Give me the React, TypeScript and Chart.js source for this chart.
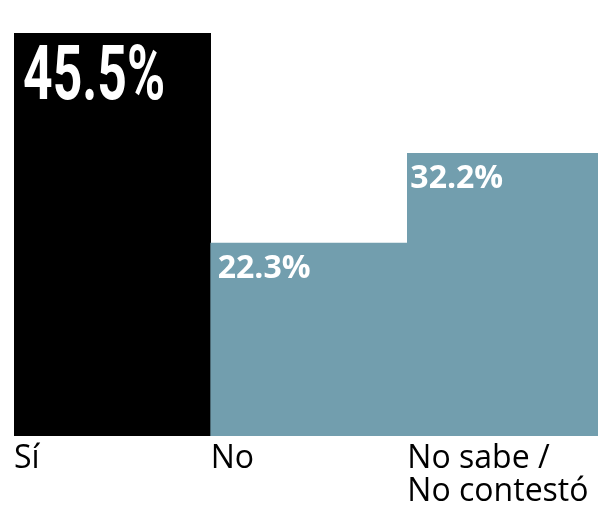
import React, { useEffect, useRef } from "react";
import { Chart, registerables } from "chart.js";

Chart.register(...registerables);

const categories: (string | string[])[] = ["Sí", "No", ["No sabe /", "No contestó"]];
const values: number[] = [45.5, 22.3, 32.2];
const valueLabels: string[] = ["45.5%", "22.3%", "32.2%"];
const barColors: string[] = ["#000000", "#729eae", "#729eae"];

const labelPlugin = {
  id: "valueLabels",
  afterDatasetsDraw(chart: any) {
    const ctx = chart.ctx;
    const meta = chart.getDatasetMeta(0);
    const xPad = [9, 7, 3];
    meta.data.forEach((bar: any, i: number) => {
      const left = bar.x - bar.width / 2;
      ctx.save();
      ctx.fillStyle = "#ffffff";
      ctx.textAlign = "left";
      ctx.textBaseline = "alphabetic";
      if (i === 0) {
        ctx.font = "bold 76px Roboto";
        ctx.translate(left + xPad[i], bar.y + 66);
        ctx.scale(0.68, 1);
        ctx.fillText(valueLabels[i], 0, 0);
      } else {
        ctx.font = "bold 32px 'Open Sans'";
        ctx.fillText(valueLabels[i], left + xPad[i], bar.y + 35);
      }
      ctx.restore();
    });
  },
};

export default function App() {
  const ref = useRef<HTMLCanvasElement>(null);
  useEffect(() => {
    if (!ref.current) return;
    const chart = new Chart(ref.current, {
      type: "bar",
      data: {
        labels: categories,
        datasets: [
          {
            data: values,
            backgroundColor: barColors,
            barPercentage: 1,
            categoryPercentage: 1,
            borderWidth: 0,
          },
        ],
      },
      options: {
        animation: false,
        responsive: false,
        devicePixelRatio: 1,
        layout: { padding: { left: 14, top: 33, right: 0, bottom: 0 } },
        plugins: { legend: { display: false }, tooltip: { enabled: false } },
        scales: {
          x: {
            grid: { display: false, drawTicks: false },
            border: { display: false },
            afterFit: (s: any) => {
              s.height = 71;
              s.paddingLeft = 0;
              s.paddingRight = 0;
            },
            ticks: {
              align: "start",
              labelOffset: -98.3,
              padding: 6,
              color: "#000000",
              font: { family: "'Open Sans'", size: 32, lineHeight: 1.03 },
              maxRotation: 0,
              autoSkip: false,
            },
          },
          y: {
            display: false,
            min: 1,
            max: 45.5,
          },
        },
      },
      plugins: [labelPlugin],
    });
    return () => chart.destroy();
  }, []);
  return (
    <div
      style={{
        position: "fixed",
        left: 0,
        top: 0,
        width: 598,
        height: 507,
        overflow: "hidden",
        background: "#fff",
      }}
    >
      <canvas ref={ref} width={604} height={507} style={{ width: 604, height: 507, display: "block" }} />
    </div>
  );
}
